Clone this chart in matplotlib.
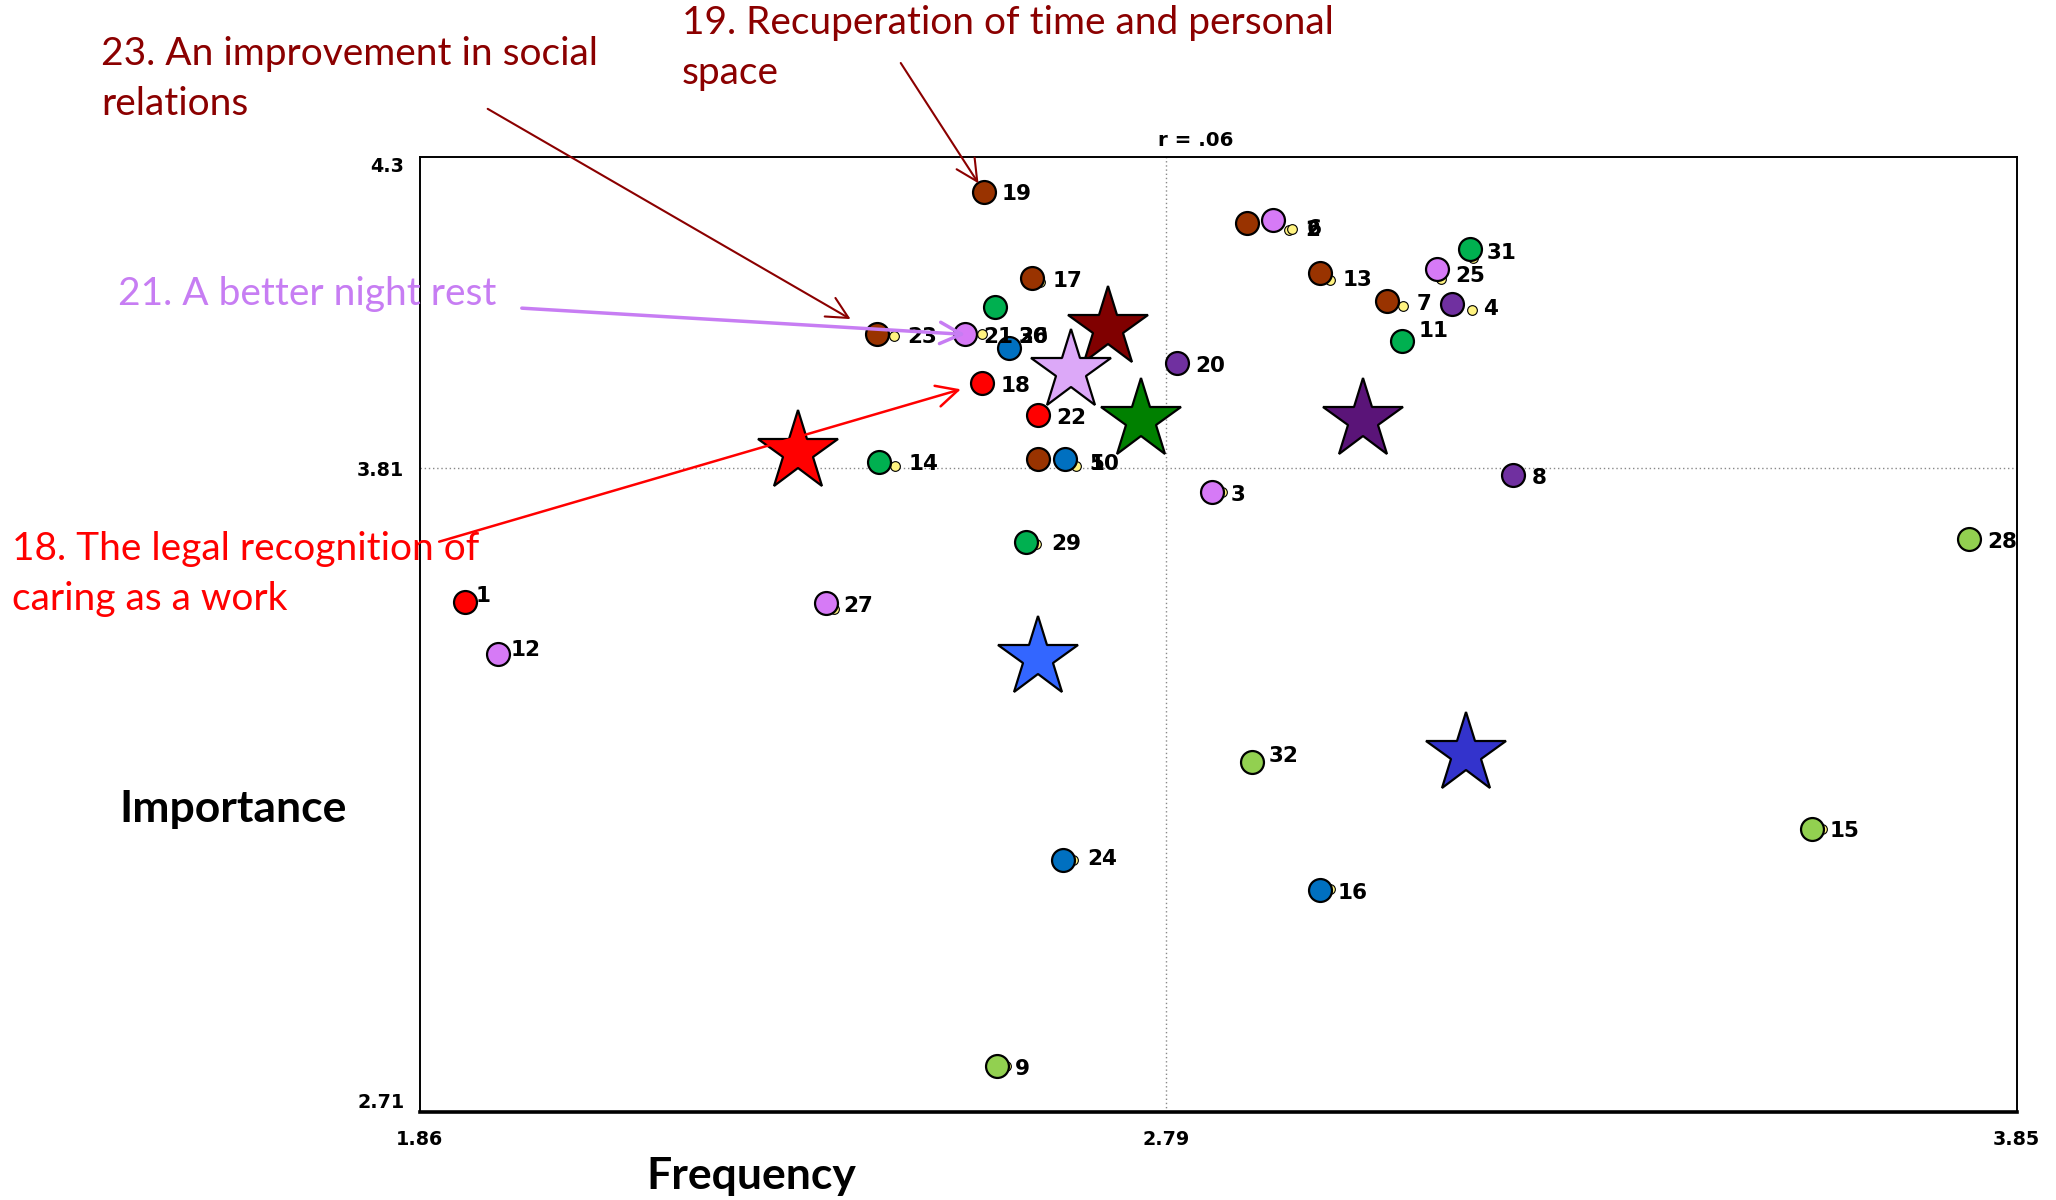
import numpy as np
import matplotlib.pyplot as plt
from matplotlib.transforms import ScaledTranslation

# go-zone data: item number, frequency (x), importance (y), cluster
item_ids = list(range(1, 33))
frequency = [1.917, 2.891, 2.848, 3.147, 2.631, 2.924, 3.066, 3.223, 2.579, 2.664,
             3.084, 1.958, 2.982, 2.433, 3.595, 2.982, 2.623, 2.561, 2.563, 2.804,
             2.540, 2.631, 2.430, 2.662, 3.128, 2.595, 2.366, 3.791, 2.616, 2.577,
             3.169, 2.897]
importance = [3.560, 4.191, 3.743, 4.055, 3.798, 4.195, 4.060, 3.771, 2.786, 3.798,
              3.994, 3.472, 4.108, 3.793, 3.182, 3.079, 4.099, 3.924, 4.243, 3.957,
              4.005, 3.870, 4.005, 3.129, 4.114, 3.983, 3.557, 3.664, 3.660, 4.051,
              4.147, 3.293]
cluster = ['red', 'brown', 'pink', 'purple', 'brown', 'pink', 'brown', 'purple', 'lgreen', 'blue',
           'green', 'pink', 'brown', 'green', 'lgreen', 'blue', 'brown', 'red', 'brown', 'purple',
           'pink', 'red', 'brown', 'blue', 'pink', 'blue', 'pink', 'lgreen', 'green', 'green',
           'green', 'lgreen']

# cluster means (stars)
star_freq = [2.718, 2.672, 2.759, 3.036, 2.332, 2.631, 3.164]
star_imp = [4.016, 3.944, 3.863, 3.863, 3.809, 3.466, 3.306]
star_colors = ['#800000', '#DCA8F8', '#008000', '#5A1478', '#FF0000', '#3366FF', '#3333CC']

freq_min, freq_mean, freq_max = 1.86, 2.79, 3.85
imp_min, imp_max = 2.71, 4.3
imp_mean_line = 3.782
x_tick_labels = ['1.86', '2.79', '3.85']
y_tick_labels = ['2.71', '3.81', '4.3']

colors = {'red': '#FF0000', 'brown': '#993300', 'pink': '#D67AF6', 'purple': '#7030A0',
          'green': '#00B050', 'blue': '#0070C0', 'lgreen': '#92D050'}

# label / little yellow dot offsets (points), defaults otherwise
label_off = {23: (22, -2), 14: (21, -2), 7: (21, -2), 4: (22, -3), 2: (42, -5), 6: (24, -6),
             5: (37, -4), 10: (18, -4), 30: (17, -22), 26: (6, 8), 1: (7, 4), 12: (9, 3),
             11: (12, 7), 32: (12, 4), 29: (18, -2), 24: (17, 1), 17: (15, -2), 13: (16, -5),
             31: (12, -3), 25: (13, -5)}
dot_off = {23: (12, -1), 14: (11, -3), 7: (11, -3), 4: (14, -4), 6: (13, -6), 2: (30, -5),
           10: (8, -5), 17: (6, -3), 13: (7, -5), 25: (3, -7), 21: (12, 0), 31: (2, -6),
           29: (7, -2), 27: (6, -4), 24: (7, 0), 16: (7, 1), 15: (7, 0), 3: (7, 0), 9: (7, 0)}

fig = plt.figure(figsize=(20.56, 12), dpi=100)
ax = fig.add_axes([0.2041, 0.0734, 0.7767, 0.7955])
ax.set_xlim(freq_min, freq_max)
ax.set_ylim(imp_min, imp_max)

ax.axvline(freq_mean, color='#888888', lw=1, ls=(0, (1, 2)), zorder=1)
ax.axhline(imp_mean_line, color='#888888', lw=1, ls=(0, (1, 2)), zorder=1)

for i, x, y, c in zip(item_ids, frequency, importance, cluster):
    dx, dy = dot_off.get(i, (3, -2))
    shift = ScaledTranslation(dx / 72, dy / 72, fig.dpi_scale_trans)
    ax.plot(x, y, 'o', ms=7, mfc='#FFF380', mec='black', mew=0.8, zorder=2,
            transform=ax.transData + shift)
    ax.plot(x, y, 'o', ms=16.5, mfc=colors[c], mec='black', mew=1.6, zorder=3)
    lx, ly = label_off.get(i, (13, -2))
    ax.annotate(str(i), xy=(x, y), xytext=(lx, ly), textcoords='offset points',
                ha='left', va='center', fontsize=15.5, fontweight='bold', zorder=4)

for x, y, c in zip(star_freq, star_imp, star_colors):
    ax.plot(x, y, '*', ms=60, mfc=c, mec='black', mew=1.6, zorder=5)

ax.set_xticks([freq_min, freq_mean, freq_max])
ax.set_xticklabels(x_tick_labels, fontsize=13.8, fontweight='bold')
ax.set_yticks([imp_min, imp_mean_line, imp_max])
ax.set_yticklabels(y_tick_labels, fontsize=13.8, fontweight='bold')
ytl = ax.get_yticklabels()
ytl[0].set_va('bottom')
ytl[2].set_va('top')
ax.tick_params(length=0)
ax.tick_params(axis='x', pad=13)
ax.tick_params(axis='y', pad=11)
for s in ax.spines.values():
    s.set_linewidth(1.4)
ax.spines['bottom'].set_linewidth(2.6)

fig.text(0.5816, 0.8831, 'r = .06', ha='center', va='center', fontsize=14.3, fontweight='bold')
fig.text(0.1135, 0.3257, 'Importance', ha='center', va='center', fontsize=32,
         fontweight='bold', family='Lato')
fig.text(0.3654, 0.0197, 'Frequency', ha='center', va='center', fontsize=32,
         fontweight='bold', family='Lato')

dark_red = '#8B0000'
lilac = '#C77DF3'
notes = [
    ('19. Recuperation of time and personal\nspace', 0.3316, 0.9601, dark_red, 19, (0.4381, 0.9475), 7, 1.5),
    ('23. An improvement in social\nrelations', 0.0491, 0.9344, dark_red, 23, (0.2372, 0.9093), 22, 1.5),
    ('21. A better night rest', 0.0574, 0.7552, lilac, 21, (0.2538, 0.7432), 0, 2.5),
    ('18. The legal recognition of\ncaring as a work', 0.0057, 0.5219, '#FF0000', 18, (0.2136, 0.5486), 16, 1.8),
]
for txt, tx, ty, col, item, start, shrink, lw in notes:
    fig.text(tx, ty, txt, ha='left', va='center', fontsize=28, color=col,
             family='Lato', linespacing=1.49)
    k = item_ids.index(item)
    ax.annotate('', xy=(frequency[k], importance[k]), xycoords='data',
                xytext=start, textcoords='figure fraction', annotation_clip=False,
                arrowprops=dict(arrowstyle='->,head_length=0.7,head_width=0.35', color=col,
                                lw=lw, shrinkA=0, shrinkB=shrink, mutation_scale=22),
                zorder=6)

fig.savefig('out.png', dpi=100)
